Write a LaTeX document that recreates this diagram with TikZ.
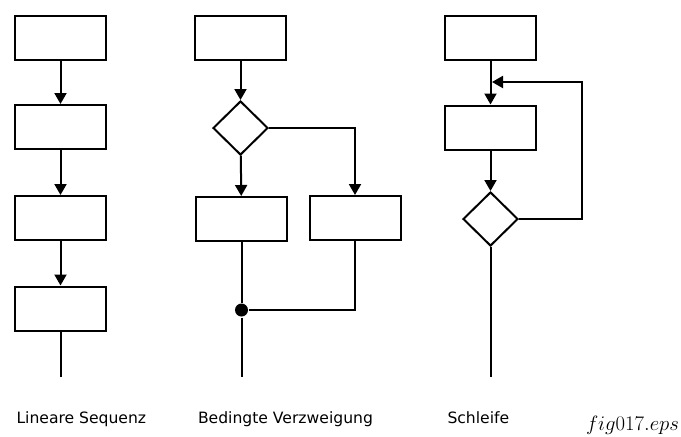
\documentclass[tikz,border=0pt]{standalone}
\usepackage{fontspec}
\setmainfont{DejaVu Sans}
\usetikzlibrary{arrows.meta,shapes.geometric}
\begin{document}
\begin{tikzpicture}[x=1pt,y=-1pt,
  line width=2pt,
  block/.style={draw,rectangle,minimum width=91pt,minimum height=44pt,inner sep=0pt},
  decision/.style={draw,diamond,minimum width=55pt,minimum height=54pt,inner sep=0pt},
  flow/.style={-{Triangle[width=12pt,length=11pt]}},
  joint/.style={circle,fill=black,minimum size=13pt,inner sep=0pt},
  caption/.style={anchor=base west,inner sep=0pt,font=\fontsize{15.6}{18}\selectfont},
  tag/.style={anchor=base east,inner sep=0pt,font=\fontsize{21}{24}\selectfont}]
\useasboundingbox (0,0) rectangle (681,437);

% linear sequence
\node[block] (a1) at (60.5,37.5) {};
\node[block] (a2) at (60.5,127) {};
\node[block] (a3) at (60.5,218) {};
\node[block] (a4) at (60.5,308.5) {};
\coordinate (aend) at (60.5,377);
\draw[flow] (a1) -- (a2);
\draw[flow] (a2) -- (a3);
\draw[flow] (a3) -- (a4);
\draw (a4) -- (aend);

% conditional branch
\node[block] (b1) at (240.5,37.5) {};
\node[decision] (bd) at (240.5,128) {};
\node[block] (bl) at (241.5,219) {};
\node[block] (br) at (355,218) {};
\node[joint] (bj) at (241.5,310) {};
\coordinate (bend) at (241.5,377);
\draw[flow] (b1) -- (bd);
\draw[flow] (bd) -- (bl);
\draw[flow] (bd.east) -| (br.north);
\draw (bl) -- (bj) -- (bend);
\draw (br.south) |- (bj);

% loop
\node[block] (c1) at (490.5,37.5) {};
\node[block] (c2) at (490.5,127.5) {};
\node[decision] (cd) at (490.5,219) {};
\coordinate (cin) at (490.5,82);
\coordinate (cend) at (490.5,377);
\draw[flow] (c1) -- (c2);
\draw[flow] (c2) -- (cd);
\draw (cd) -- (cend);
\draw[flow,shorten >=1.5pt] (cd.east) -- (582,219) |- (cin);

% captions
\node[caption] (t1) at (15.5,423) {Lineare Sequenz};
\node[caption] (t2) at (197,423) {Bedingte Verzweigung};
\node[caption] (t3) at (446.5,423) {Schleife};
\node[tag] (t4) at (680,430) {$fig017.eps$};
\end{tikzpicture}
\end{document}
